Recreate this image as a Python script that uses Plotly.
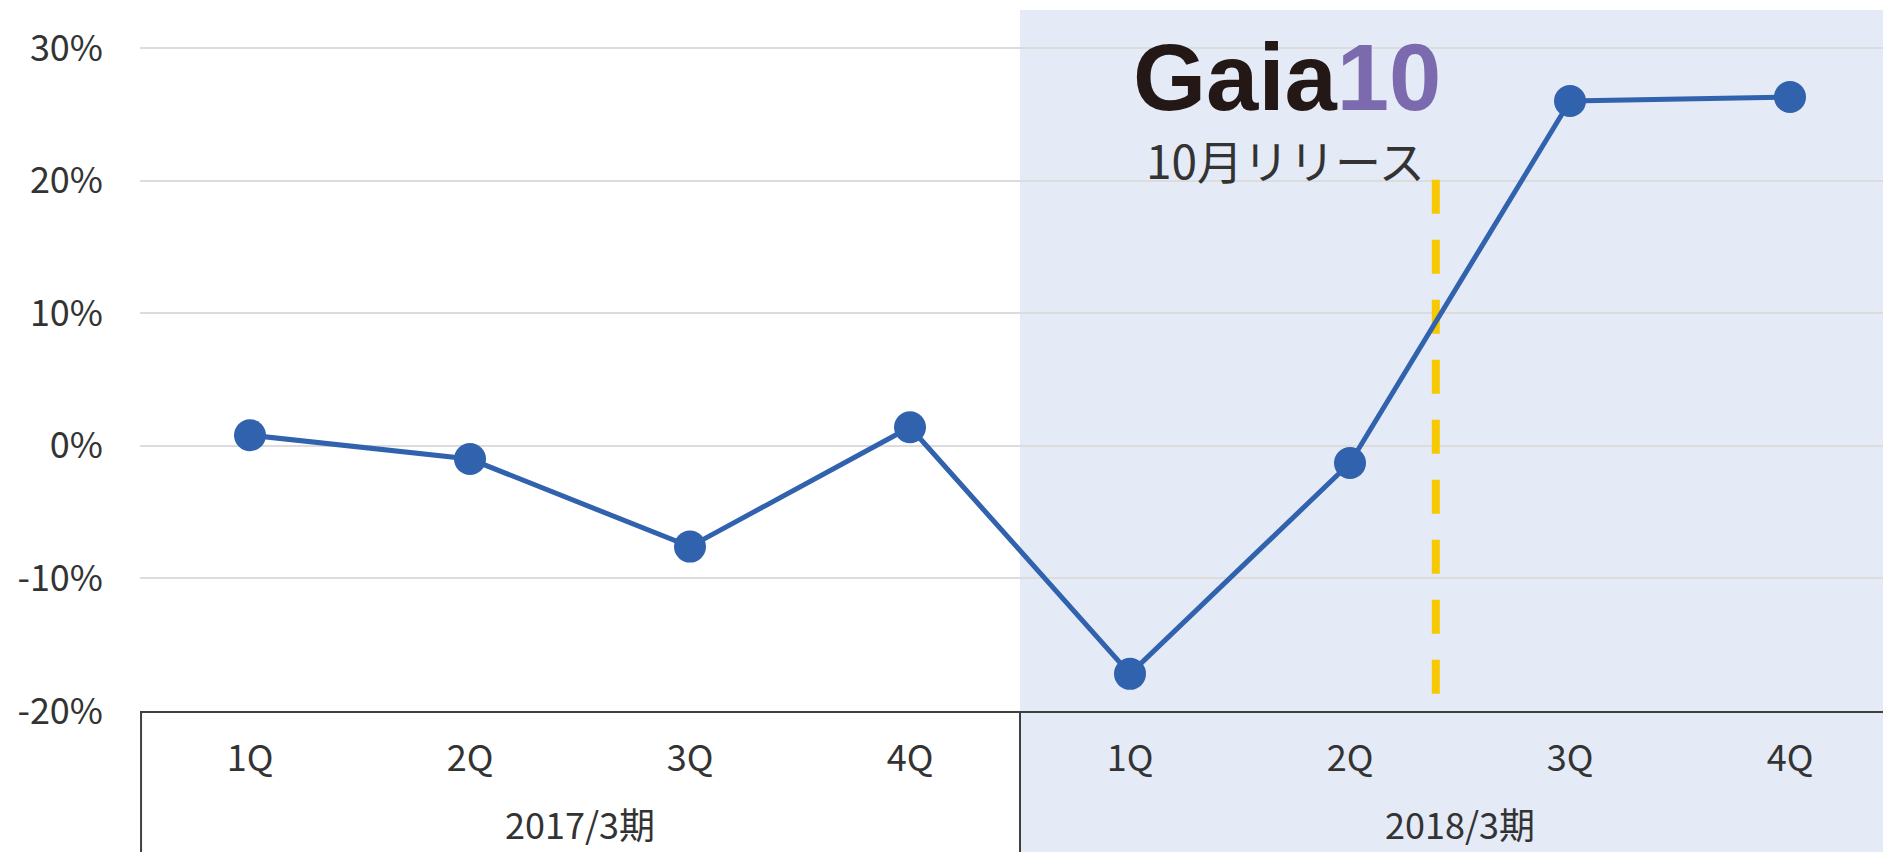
import plotly.graph_objects as go

# ---- data ----
quarters = ["1Q", "2Q", "3Q", "4Q", "1Q", "2Q", "3Q", "4Q"]
fiscal_years = ["2017/3期", "2018/3期"]
growth_pct = [0.8, -1.0, -7.6, 1.4, -17.2, -1.3, 26.0, 26.3]
y_ticks = [-20, -10, 0, 10, 20, 30]
y_ticktext = [f"{v}%" for v in y_ticks]
release_x = 5.39          # Gaia10 release (October) between 2Q and 3Q of FY2018/3
release_y = (-18.7, 20.3)
logo_main = "Gaia"
logo_num = "10"
release_label = "10月リリース"

x_idx = list(range(len(quarters)))

BLUE = "#3162AD"
SHADE = "#E4EAF6"
YELLOW = "#F7C900"
AXIS = "#404040"
TEXT = "#333333"
FONT = "Noto Sans CJK JP"

fig = go.Figure()
fig.add_trace(go.Scatter(
    x=x_idx, y=growth_pct, mode="lines+markers",
    line=dict(color=BLUE, width=5),
    marker=dict(color=BLUE, size=32),
    hoverinfo="skip", showlegend=False,
))

# bottom of page relative to plot area (paper units)
plot_h = 701
bottom_paper = -141 / plot_h

shapes = [
    # shaded FY2018 region
    dict(type="rect", xref="x", yref="paper", x0=3.5, x1=8.5, y0=bottom_paper, y1=1,
         fillcolor=SHADE, line=dict(width=0), layer="below"),
    # dividers in category area
    dict(type="line", xref="paper", yref="paper", x0=0.0006, x1=0.0006, y0=bottom_paper, y1=0,
         line=dict(color=AXIS, width=2), layer="above"),
    dict(type="line", xref="x", yref="paper", x0=3.5, x1=3.5, y0=bottom_paper, y1=0,
         line=dict(color=AXIS, width=2), layer="above"),
    # release marker
    dict(type="line", xref="x", yref="y", x0=release_x, x1=release_x,
         y0=release_y[0], y1=release_y[1],
         line=dict(color=YELLOW, width=8, dash="34px,26px"), layer="between"),
]

annotations = []
for i, fy in enumerate(fiscal_years):
    annotations.append(dict(
        text=fy, xref="x", yref="paper", x=1.5 + 4 * i, y=(711 - 823) / plot_h,
        showarrow=False, xanchor="center", yanchor="middle",
        font=dict(family=FONT, size=36, color=TEXT),
    ))

annotations.append(dict(
    text=f"<b>{logo_main}</b><span style='color:#7B6BAE'><b>{logo_num}</b></span>",
    xref="x", yref="y", x=4.714, y=27.74, showarrow=False,
    xanchor="center", yanchor="middle",
    font=dict(family="Liberation Sans", size=94, color="#231815"),
))
annotations.append(dict(
    text=release_label, xref="x", yref="y", x=4.705, y=21.6, showarrow=False,
    xanchor="center", yanchor="middle",
    font=dict(family=FONT, size=46, color=TEXT),
))

fig.update_layout(
    width=1883, height=852,
    margin=dict(l=140, r=0, t=10, b=141, pad=0),
    paper_bgcolor="white", plot_bgcolor="white",
    shapes=shapes, annotations=annotations,
    font=dict(family=FONT, color=TEXT),
    xaxis=dict(
        range=[-0.5, -0.5 + 1743 / 220], tickmode="array",
        tickvals=x_idx, ticktext=quarters, showgrid=False, zeroline=False,
        showline=True, linecolor=AXIS, linewidth=2,
        ticks="", ticklabelstandoff=15,
        tickfont=dict(family=FONT, size=36, color=TEXT),
        fixedrange=True,
    ),
    yaxis=dict(
        range=[-20, -20 + plot_h / 13.26], tickmode="array",
        tickvals=y_ticks, ticktext=y_ticktext,
        showgrid=True, gridcolor="#DCDCDC", gridwidth=2, zeroline=False,
        showline=False, ticks="", ticklabelstandoff=36,
        tickfont=dict(family=FONT, size=36, color=TEXT),
        fixedrange=True,
    ),
)

fig.write_html("out.html", config={"displayModeBar": False},
               post_script="document.body.style.margin='0';document.body.style.overflow='hidden';")
